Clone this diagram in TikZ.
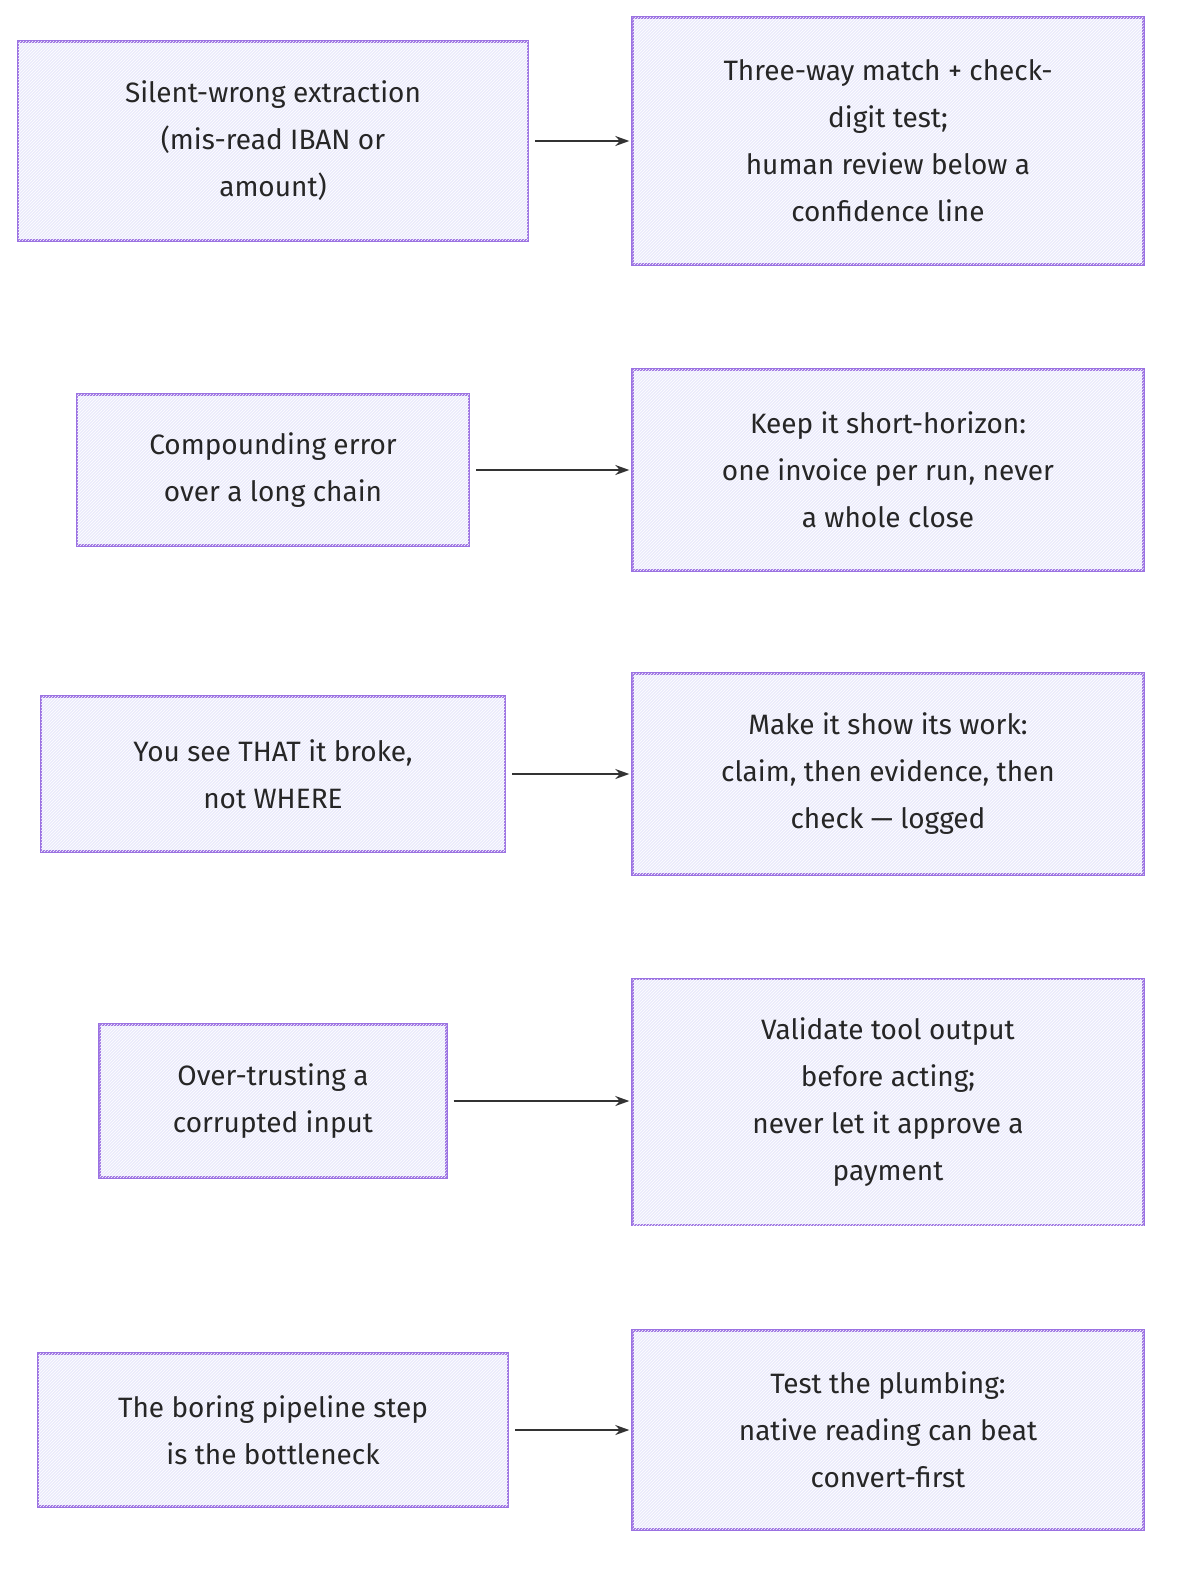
\documentclass[tikz,border=0pt]{standalone}
\usepackage{fontspec}
\setmainfont{Fira Sans}
\usetikzlibrary{arrows.meta,patterns}
\definecolor{bx}{HTML}{EBEBFB}
\definecolor{bd}{HTML}{9B72E2}
\definecolor{ar}{HTML}{333333}
\begin{document}
\begin{tikzpicture}[x=1pt,y=-1pt,
  box/.style={draw=bd,fill=bx,line width=2.4pt,align=center,inner sep=0pt,
    font=\fontsize{28}{47}\selectfont,text=black!85,
    postaction={pattern=north east lines,pattern color=white}},
  arr/.style={draw=ar,line width=1.4pt,-{Stealth[length=14pt,width=10pt]}}]
\useasboundingbox (0,0) rectangle (1188,1580);
\node[box,minimum width=510,minimum height=199] (l1) at (273,141) {Silent-wrong extraction\\(mis-read IBAN or\\amount)};
\node[box,minimum width=511,minimum height=247] (r1) at (888,141) {Three-way match + check-\\digit test;\\human review below a\\confidence line};
\node[box,minimum width=392,minimum height=151] (l2) at (273,470) {Compounding error\\over a long chain};
\node[box,minimum width=511,minimum height=201] (r2) at (888,470) {Keep it short-horizon:\\one invoice per run, never\\a whole close};
\node[box,minimum width=464,minimum height=155] (l3) at (273,774) {You see THAT it broke,\\not WHERE};
\node[box,minimum width=511,minimum height=201] (r3) at (888,774) {Make it show its work:\\claim, then evidence, then\\check — logged};
\node[box,minimum width=347,minimum height=153] (l4) at (273,1101) {Over-trusting a\\corrupted input};
\node[box,minimum width=511,minimum height=246] (r4) at (888,1102) {Validate tool output\\before acting;\\never let it approve a\\payment};
\node[box,minimum width=470,minimum height=153] (l5) at (273,1430) {The boring pipeline step\\is the bottleneck};
\node[box,minimum width=511,minimum height=199] (r5) at (888,1430) {Test the plumbing:\\native reading can beat\\convert-first};
\foreach \i in {1,...,5}{\draw[arr] ([xshift=6pt]l\i.east) -- ([xshift=-2pt]r\i.west |- l\i.east);}
\end{tikzpicture}
\end{document}
